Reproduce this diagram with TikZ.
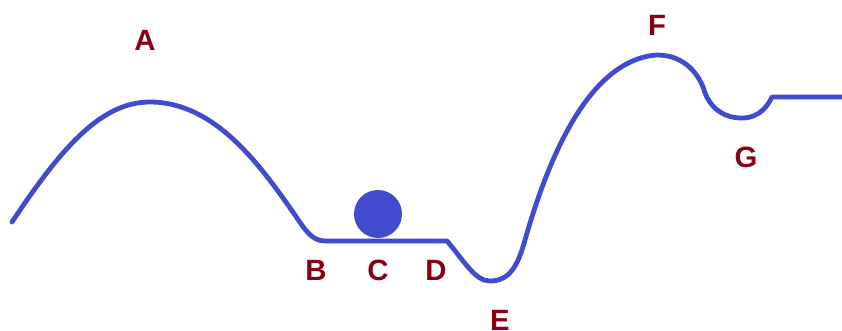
\documentclass[tikz,border=0pt]{standalone}
\usepackage{fontspec}
\setmainfont{Liberation Sans}
\usetikzlibrary{positioning}
\definecolor{track}{RGB}{65,75,205}
\definecolor{lbl}{RGB}{135,0,20}
\begin{document}
\begin{tikzpicture}[x=0.75pt, y=-0.75pt, font=\fontsize{22}{24}\selectfont\bfseries,
  lab/.style={text=lbl, inner sep=0pt},
  rail/.style={draw=track, line width=3.6pt, line cap=round, line join=round}]
\useasboundingbox (0,0) rectangle (842,331);
% track
\draw[rail] (12,222) .. controls (60,150) and (100,102) .. (150,102)
  .. controls (215,102) and (260,165) .. (295,215)
  .. controls (305,230) and (312,241) .. (325,241)
  -- (447,241)
  .. controls (465,262) and (475,281) .. (490,281)
  .. controls (510,281) and (518,265) .. (525,240)
  .. controls (545,170) and (585,60) .. (657,55)
  .. controls (685,55) and (700,75) .. (705,93)
  .. controls (712,110) and (725,118) .. (742,118)
  .. controls (760,118) and (768,105) .. (772,97)
  -- (842,97);
% ball
\node[circle, fill=track, minimum size=36pt, inner sep=0pt] (ball) at (378,214) {};
% labels
\node[lab] (a) at (145,40) {A};
\node[lab] (b) at (316,270) {B};
\node[lab] (c) at (378,270) {C};
\node[lab] (d) at (436,270) {D};
\node[lab] (e) at (500,320) {E};
\node[lab] (f) at (657,25) {F};
\node[lab] (g) at (746,157) {G};
\end{tikzpicture}
\end{document}
